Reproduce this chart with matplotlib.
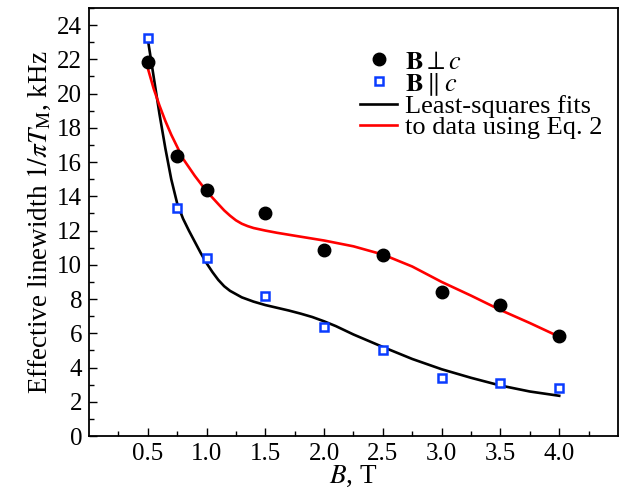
import matplotlib
matplotlib.use("Agg")
import matplotlib.pyplot as plt
from matplotlib.ticker import MultipleLocator, FixedLocator, FormatStrFormatter

plt.rcParams['font.family'] = ['Liberation Serif', 'DejaVu Serif']
plt.rcParams['mathtext.fontset'] = 'stix'

# Data
B = [0.5, 0.75, 1.0, 1.5, 2.0, 2.5, 3.0, 3.5, 4.0]
perp = [21.85, 16.35, 14.37, 13.03, 10.86, 10.57, 8.41, 7.65, 5.84]
para = [23.25, 13.3, 10.4, 8.18, 6.37, 5.02, 3.39, 3.1, 2.8]

# Fit curves
fit_perp_x = [0.5, 0.55, 0.6, 0.65, 0.7, 0.75, 0.8, 0.9, 1.0, 1.1, 1.15, 1.2, 1.25, 1.3,
              1.35, 1.4, 1.5, 1.6, 1.75, 2.0, 2.25, 2.5, 2.75, 3.0, 3.25, 3.5, 3.75, 4.0]
fit_perp_y = [21.5, 20.3, 19.3, 18.4, 17.6, 16.9, 16.2, 15.2, 14.3, 13.55, 13.18, 12.87, 12.6, 12.4,
              12.26, 12.15, 12.0, 11.87, 11.7, 11.42, 11.08, 10.6, 9.9, 9.0, 8.2, 7.36, 6.6, 5.8]
fit_para_x = [0.5, 0.55, 0.6, 0.65, 0.7, 0.75, 0.8, 0.85, 0.9, 0.95, 1.0, 1.05, 1.1, 1.15,
              1.2, 1.3, 1.4, 1.5, 1.6, 1.7, 1.8, 1.9, 2.0, 2.1, 2.25, 2.5, 2.75, 3.0,
              3.25, 3.5, 3.75, 4.0]
fit_para_y = [23.2, 21.0, 18.8, 16.8, 15.0, 13.6, 12.7, 12.0, 11.35, 10.7, 10.1, 9.58, 9.12, 8.75,
              8.48, 8.1, 7.85, 7.65, 7.49, 7.33, 7.15, 6.95, 6.7, 6.42, 5.93, 5.2, 4.5, 3.9,
              3.4, 2.95, 2.6, 2.35]

labels = [r'$\mathbf{B}\perp c$', r'$\mathbf{B}\parallel c$',
          'Least-squares fits', 'to data using Eq. 2']

fig = plt.figure(figsize=(6.22, 5.01), dpi=100)
ax = fig.add_axes([0.143, 0.1297, 0.8506, 0.8543])

h3, = ax.plot(fit_para_x, fit_para_y, color='black', lw=1.9, zorder=2)
h4, = ax.plot(fit_perp_x, fit_perp_y, color='red', lw=1.9, zorder=2)
h1, = ax.plot(B, perp, 'o', color='black', ms=9, ls='none', zorder=3)
h2, = ax.plot(B, para, 's', mfc='white', mec='#0a3cff', mew=1.8, ms=6.0, ls='none', zorder=4)

ax.set_xlim(0, 4.5)
ax.set_ylim(0, 25)
ax.xaxis.set_major_locator(FixedLocator([0.5, 1.0, 1.5, 2.0, 2.5, 3.0, 3.5, 4.0]))
ax.xaxis.set_major_formatter(FormatStrFormatter('%.1f'))
ax.xaxis.set_minor_locator(FixedLocator([0.25, 0.75, 1.25, 1.75, 2.25, 2.75, 3.25, 3.75, 4.25]))
ax.yaxis.set_major_locator(MultipleLocator(2))
ax.yaxis.set_minor_locator(MultipleLocator(1))
ax.tick_params(which='both', direction='in', labelsize=18, width=1.0)
ax.tick_params(which='major', length=6, pad=5)
ax.tick_params(which='minor', length=3.5)
for s in ax.spines.values():
    s.set_linewidth(1.3)

ax.set_xlabel(r'$B$, T', fontsize=19.5, labelpad=-1)
ax.set_ylabel(r'Effective linewidth $1/\pi T_\mathrm{M}$, kHz', fontsize=19.5, labelpad=3)

ax.legend([h1, h2, h3, h4], labels, loc='upper left', bbox_to_anchor=(0.478, 0.945),
          frameon=False, fontsize=19, labelspacing=-0.1, handlelength=1.4,
          handletextpad=0.3, borderpad=0.2)

fig.savefig('out.png', dpi=100)
